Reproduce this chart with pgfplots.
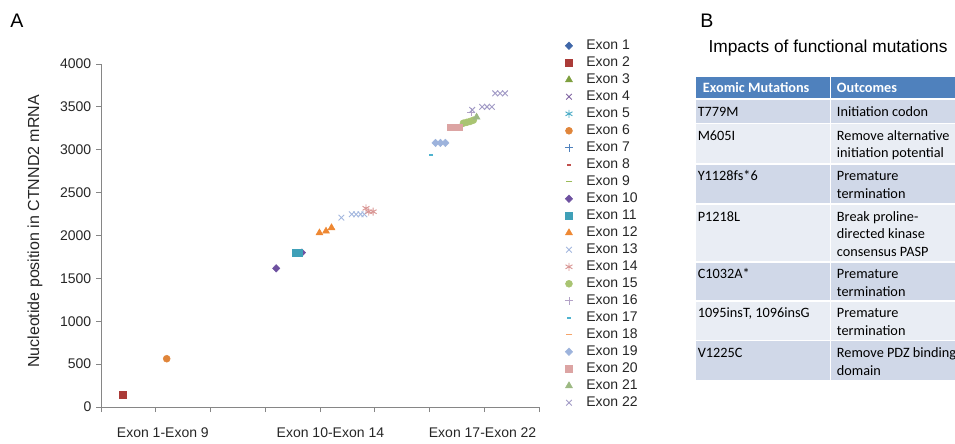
\documentclass[border=0pt]{standalone}
\usepackage{fontspec}
\setmainfont{Liberation Sans}
\newfontfamily\calibri{Carlito}
\usepackage{pgfplots}
\pgfplotsset{compat=1.18}
\definecolor{axgray}{HTML}{868686}
\definecolor{c1}{HTML}{3F67A8}
\definecolor{c2}{HTML}{AB3B38}
\definecolor{c3}{HTML}{7E9F3F}
\definecolor{c4}{HTML}{8064A2}
\definecolor{c5}{HTML}{4BACC6}
\definecolor{c6}{HTML}{E0853A}
\definecolor{c7}{HTML}{4F81BD}
\definecolor{c8}{HTML}{C0504D}
\definecolor{c9}{HTML}{9BBB59}
\definecolor{c10}{HTML}{6E51A0}
\definecolor{c11}{HTML}{3FA0B8}
\definecolor{c12}{HTML}{EE8833}
\definecolor{c13}{HTML}{A3B7DE}
\definecolor{c14}{HTML}{D99694}
\definecolor{c15}{HTML}{A9C472}
\definecolor{c16}{HTML}{B3A2C7}
\definecolor{c17}{HTML}{4FB3CF}
\definecolor{c18}{HTML}{F5A46A}
\definecolor{c19}{HTML}{9DB3DC}
\definecolor{c20}{HTML}{DCA4A3}
\definecolor{c21}{HTML}{5A8A30}
\definecolor{c22}{HTML}{A29BC6}
\definecolor{hdr}{HTML}{4F81BD}
\definecolor{rowA}{HTML}{D0D8E8}
\definecolor{rowB}{HTML}{E9EDF4}
\begin{document}
\begin{tikzpicture}
\begin{scope}[x=0.75pt,y=-0.75pt]
\path[use as bounding box] (0,0) rectangle (955,443);
\end{scope}
\begin{axis}[
  at={(75.75pt,-305.25pt)}, anchor=south west,
  scale only axis, width=328.5pt, height=257.25pt,
  xmin=0, xmax=8, ymin=0, ymax=4000,
  axis x line=bottom, axis y line=left,
  axis line style={-, draw=axgray, line width=0.6pt},
  tick align=outside, major tick length=3.75pt,
  tick style={draw=axgray, line width=0.6pt},
  xtick={0,...,8}, xticklabels={},
  extra x ticks={1.13,4.19,6.97},
  extra x tick labels={Exon 1-Exon 9, Exon 10-Exon 14, Exon 17-Exon 22},
  extra x tick style={major tick length=0pt, xticklabel style={yshift=-12pt}},
  ytick={0,500,...,4000},
  ticklabel style={font=\fontsize{10.5}{12}\selectfont, text=black!85},
  /pgf/number format/assume math mode=true,
  /pgf/number format/1000 sep={},
  ylabel={Nucleotide position in CTNND2 mRNA},
  ylabel style={at={(axis description cs:-0.1507,0.512)}, anchor=center, font=\fontsize{12}{14}\selectfont, text=black!85},
  clip=false,
  legend style={at={(1.0587,1.0787)}, anchor=north west, draw=none, fill=none, inner sep=0pt, row sep=0pt,
    font=\fontsize{10.5}{12}\selectfont, text=black!85,
    nodes={inner sep=0pt, minimum height=12.75pt, anchor=west},
    /tikz/every odd column/.append style={column sep=10pt}},
  legend cell align=left,
]
\addlegendimage{only marks, mark=diamond*, mark size=2.8pt, color=c1, mark options={xscale=1.3}}
\addlegendentry{Exon 1}
\addplot[only marks, mark=square*, mark size=2.6pt, color=c2] coordinates {(0.40,148)};
\addlegendentry{Exon 2}
\addlegendimage{only marks, mark=triangle*, mark size=3pt, color=c3}
\addlegendentry{Exon 3}
\addlegendimage{only marks, mark=x, mark size=3pt, color=c4, mark options={line width=0.7pt}}
\addlegendentry{Exon 4}
\addlegendimage{only marks, mark=asterisk, mark size=3pt, color=c5, mark options={line width=0.7pt}}
\addlegendentry{Exon 5}
\addplot[only marks, mark=*, mark size=2.6pt, color=c6] coordinates {(1.20,563)};
\addlegendentry{Exon 6}
\addlegendimage{only marks, mark=+, mark size=3pt, color=c7, mark options={line width=0.7pt}}
\addlegendentry{Exon 7}
\addlegendimage{only marks, mark=-, mark size=1.5pt, color=c8, mark options={line width=1.5pt}}
\addlegendentry{Exon 8}
\addlegendimage{only marks, mark=-, mark size=2.6pt, color=c9, mark options={line width=1pt}}
\addlegendentry{Exon 9}
\addplot[only marks, mark=diamond*, mark size=2.8pt, color=c10, mark options={xscale=1.3}] coordinates {(3.20,1617) (3.67,1800)};
\addlegendentry{Exon 10}
\addplot[only marks, mark=square*, mark size=2.6pt, color=c11] coordinates {(3.55,1800) (3.62,1800)};
\addlegendentry{Exon 11}
\addplot[only marks, mark=triangle*, mark size=3pt, color=c12] coordinates {(3.99,2030) (4.11,2050) (4.21,2090)};
\addlegendentry{Exon 12}
\addplot[only marks, mark=x, mark size=3pt, color=c13, mark options={line width=0.7pt}] coordinates {(4.39,2208) (4.58,2247) (4.66,2247) (4.74,2247) (4.81,2247)};
\addlegendentry{Exon 13}
\addplot[only marks, mark=asterisk, mark size=3pt, color=c14, mark options={line width=0.7pt}] coordinates {(4.84,2317) (4.89,2278) (4.97,2278)};
\addlegendentry{Exon 14}
\addplot[only marks, mark=*, mark size=2.6pt, color=c15] coordinates {(6.62,3310) (6.68,3320) (6.74,3330) (6.80,3345)};
\addlegendentry{Exon 15}
\addplot[only marks, mark=+, mark size=3pt, color=c16, mark options={line width=0.7pt}] coordinates {(6.76,3440)};
\addlegendentry{Exon 16}
\addplot[only marks, mark=-, mark size=1.5pt, color=c17, mark options={line width=1.5pt}] coordinates {(6.03,2935)};
\addlegendentry{Exon 17}
\addlegendimage{only marks, mark=-, mark size=2.6pt, color=c18, mark options={line width=1pt}}
\addlegendentry{Exon 18}
\addplot[only marks, mark=diamond*, mark size=2.8pt, color=c19, mark options={xscale=1.3}] coordinates {(6.11,3080) (6.20,3080) (6.29,3080)};
\addlegendentry{Exon 19}
\addplot[only marks, mark=square*, mark size=2.6pt, color=c20] coordinates {(6.39,3262) (6.47,3262) (6.53,3262)};
\addlegendentry{Exon 20}
\addplot[only marks, mark=triangle*, mark size=3pt, color=c21!60!white] coordinates {(6.86,3380)};
\addlegendentry{Exon 21}
\addplot[only marks, mark=x, mark size=3pt, color=c22, mark options={line width=0.7pt}] coordinates {(6.78,3465) (6.96,3500) (7.05,3500) (7.14,3500) (7.20,3658) (7.29,3658) (7.38,3658)};
\addlegendentry{Exon 22}
\end{axis}
\begin{scope}[x=0.75pt,y=-0.75pt]
\node[anchor=base, font=\fontsize{14.7}{17}\selectfont, inner sep=0pt] at (17,27) {A};
\node[anchor=base, font=\fontsize{14.7}{17}\selectfont, inner sep=0pt] at (707,27) {B};
\node[anchor=base, font=\fontsize{13}{15}\selectfont, inner sep=0pt] at (828,52.7) {Impacts of functional mutations};
\clip (0,0) rectangle (955,443);
% header
\fill[hdr] (696,76.7) rectangle (829.5,98.3);
\fill[hdr] (831,76.7) rectangle (965,98.3);
% rows
\foreach \t/\b/\c in {100/122.7/rowA, 124/163.3/rowB, 164.7/203.3/rowA, 205/260.7/rowB, 262.7/300/rowA, 301.7/340/rowB, 341.3/380/rowA}{
  \fill[\c] (696,\t) rectangle (829.5,\b);
  \fill[\c] (831,\t) rectangle (965,\b);
}
\tikzset{tb/.style={anchor=base west, inner sep=0pt, font=\calibri\fontsize{10.7}{13}\selectfont}}
\node[tb, font=\calibri\bfseries\fontsize{10.7}{13}\selectfont, text=white] at (702.7,92.3) {Exomic Mutations};
\node[tb, font=\calibri\bfseries\fontsize{10.7}{13}\selectfont, text=white] at (836.7,92.3) {Outcomes};
\node[tb] at (697.5,116) {T779M};
\node[tb] at (836.7,116) {Initiation codon};
\node[tb] at (697.5,140) {M605I};
\node[tb] at (836.7,140) {Remove alternative};
\node[tb] at (836.7,157.7) {initiation potential};
\node[tb] at (697.5,180.7) {Y1128fs*6};
\node[tb] at (836.7,180.7) {Premature};
\node[tb] at (836.7,198.4) {termination};
\node[tb] at (697.5,221) {P1218L};
\node[tb] at (836.7,221) {Break proline-};
\node[tb] at (836.7,238.7) {directed kinase};
\node[tb] at (836.7,256.4) {consensus PASP};
\node[tb] at (697.5,278.7) {C1032A*};
\node[tb] at (836.7,278.7) {Premature};
\node[tb] at (836.7,296.4) {termination};
\node[tb] at (697.5,317.7) {1095insT, 1096insG};
\node[tb] at (836.7,317.7) {Premature};
\node[tb] at (836.7,335.4) {termination};
\node[tb] at (697.5,357.3) {V1225C};
\node[tb] at (836.7,357.3) {Remove PDZ binding};
\node[tb] at (836.7,375) {domain};
\end{scope}
\end{tikzpicture}
\end{document}
